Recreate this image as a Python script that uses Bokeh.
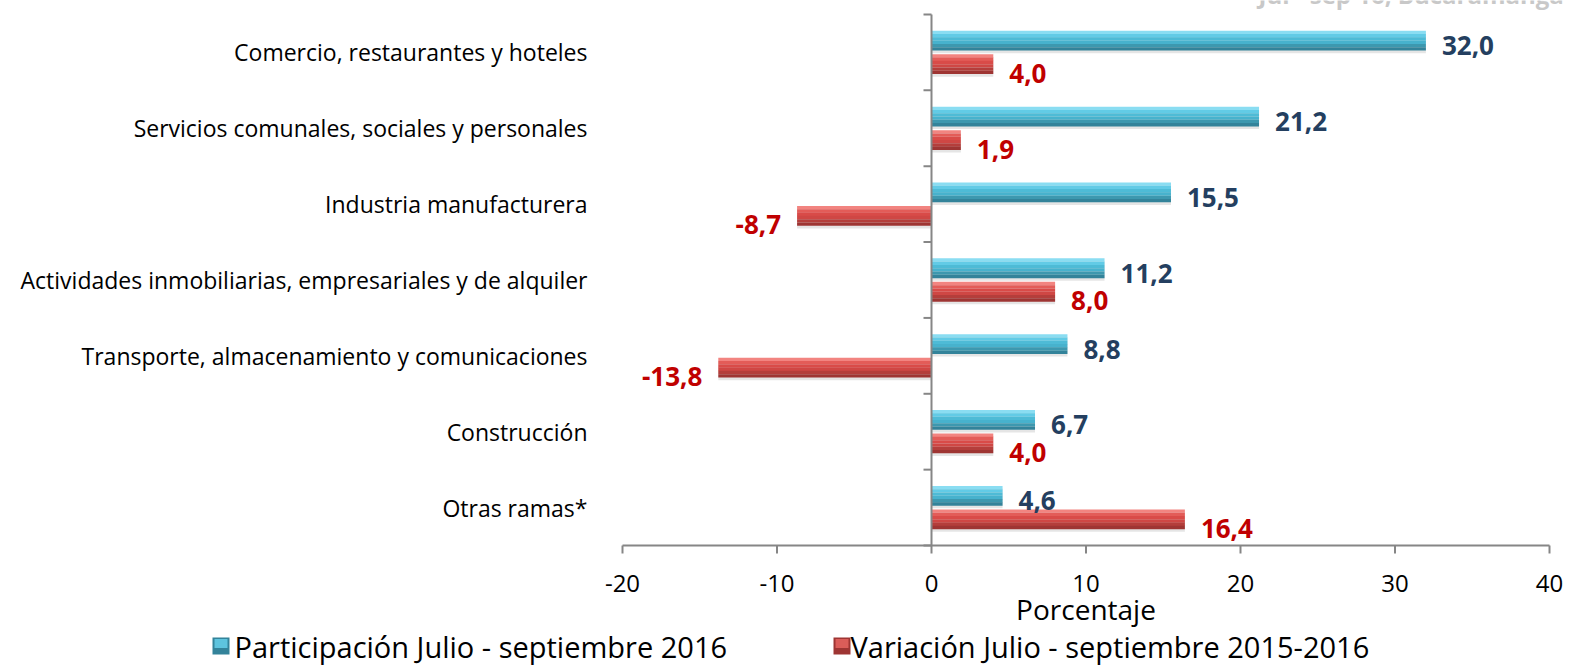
from bokeh.plotting import figure
from bokeh.models import Range1d, ColumnDataSource
from bokeh.core.properties import value
from bokeh.embed import file_html
from bokeh.resources import INLINE

categories = [
    "Comercio, restaurantes y hoteles",
    "Servicios comunales, sociales y personales",
    "Industria manufacturera",
    "Actividades inmobiliarias, empresariales y de alquiler",
    "Transporte, almacenamiento y comunicaciones",
    "Construcción",
    "Otras ramas*",
]
participacion = [32.0, 21.2, 15.5, 11.2, 8.8, 6.7, 4.6]
variacion = [4.0, 1.9, -8.7, 8.0, -13.8, 4.0, 16.4]
x_ticks = [-20, -10, 0, 10, 20, 30, 40]
x_tick_labels = ["-20", "-10", "0", "10", "20", "30", "40"]
series_names = ["Participación Julio - septiembre 2016",
                "Variación Julio - septiembre 2015-2016"]
axis_title = "Porcentaje"
corner_title = "Jul - sep 16, Bucaramanga"

FONT = "Open Sans"
W, Hc = 1577, 667
# pixel layout of the plotting area
FL, FR, FT, FB = 622, 1549, 14, 545
n = len(categories)
xmin, xmax = x_ticks[0], x_ticks[-1]
ppx = (FR - FL) / (xmax - xmin)
ppy = (FB - FT) / n
x_start = xmin - FL / ppx
x_end = xmax + (W - FR) / ppx
y_end = n + FT / ppy
y_start = 0 - (Hc - FB) / ppy

def X(px):
    return x_start + px / ppx

def Y(py):
    return y_end - py / ppy

p = figure(width=W, height=Hc, output_backend="svg", toolbar_location=None,
           x_range=Range1d(x_start, x_end), y_range=Range1d(y_start, y_end),
           x_axis_type=None, y_axis_type=None, min_border=0)
p.outline_line_color = None
p.background_fill_color = "white"
p.border_fill_color = "white"

centers = [n - i - 0.5 for i in range(n)]
OFF = 0.155
H = 0.26

def fmt(v):
    return f"{v:.1f}".replace(".", ",")

yb = [c + OFF for c in centers]
yr = [c - OFF for c in centers]

def label_src(ys, vals):
    return ColumnDataSource(dict(y=ys, v=vals, lab=[fmt(v) for v in vals],
                                 al=["left" if v >= 0 else "right" for v in vals],
                                 xo=[16 if v >= 0 else -16 for v in vals]))

src_b = label_src(yb, participacion)
src_r = label_src(yr, variacion)

BLUE_BANDS = ["#8ADDF2", "#62CBE6", "#4EBBD6", "#47B2CD", "#3D98AF", "#33839A"]
RED_BANDS = ["#F28480", "#E35C58", "#D94B48", "#CF4744", "#B43E3B", "#9E3533"]

def bar3d(ys, vals, bands):
    sh = ColumnDataSource(dict(y=[y - 0.035 for y in ys], v=vals))
    p.hbar(y="y", right="v", left=0, height=H, source=sh, fill_color="black",
           fill_alpha=0.10, line_color=None)
    m = len(bands)
    bh = H / m
    for k, col in enumerate(bands):
        s = ColumnDataSource(dict(y=[y + H / 2 - (k + 0.5) * bh for y in ys], v=vals))
        p.hbar(y="y", right="v", left=0, height=bh * 1.02, source=s, fill_color=col,
               line_color=None)

bar3d(yb, participacion, BLUE_BANDS)
bar3d(yr, variacion, RED_BANDS)

# value labels
p.text(x="v", y="y", text="lab", source=src_b, text_align="al", x_offset="xo",
       y_offset=5, text_baseline="middle", text_font=value(FONT),
       text_font_style="bold", text_font_size="26px", text_color="#243F60")
p.text(x="v", y="y", text="lab", source=src_r, text_align="al", x_offset="xo",
       y_offset=9, text_baseline="middle", text_font=value(FONT),
       text_font_style="bold", text_font_size="26px", text_color="#C00000")

GRAY = "#868686"
# vertical axis at zero with category-boundary ticks
p.segment(x0=[0], x1=[0], y0=[0], y1=[n], line_color=GRAY, line_width=2)
tick_len = 8 / ppx
p.segment(x0=[-tick_len] * (n + 1), x1=[0] * (n + 1), y0=list(range(n + 1)),
          y1=list(range(n + 1)), line_color=GRAY, line_width=2)

# horizontal axis
p.segment(x0=[xmin], x1=[xmax], y0=[0], y1=[0], line_color=GRAY, line_width=2)
p.segment(x0=x_ticks, x1=x_ticks, y0=[0] * len(x_ticks),
          y1=[-8 / ppy] * len(x_ticks), line_color=GRAY, line_width=2)
p.text(x=x_ticks, y=[Y(583)] * len(x_ticks), text=x_tick_labels, text_align="center",
       text_baseline="middle", text_font=value(FONT), text_font_size="24px",
       text_color="black")
p.text(x=[(xmin + xmax) / 2], y=[Y(608)], text=[axis_title], text_align="center",
       text_baseline="middle", text_font=value(FONT), text_font_size="28px",
       text_color="black")

# category labels
p.text(x=[X(587)] * n, y=centers, text=categories, text_align="right",
       text_baseline="middle", text_font=value(FONT), text_font_size="23px",
       text_color="black")

# legend
sw_x = [X(220.5), X(841.5)]
sw_y = [Y(645.5)] * 2
p.rect(x=sw_x, y=sw_y, width=17, height=17, width_units="screen", height_units="screen",
       fill_color=["#33839A", "#9E3533"], line_color=None)
p.rect(x=sw_x, y=[Y(643)] * 2, width=13, height=9, width_units="screen",
       height_units="screen", fill_color=["#5EC4DE", "#DB5D59"], line_color=None)
p.text(x=[X(234), X(850)], y=[Y(646)] * 2, text=series_names, text_align="left",
       text_baseline="middle", text_font=value(FONT), text_font_size="29px",
       text_color="black")

# clipped corner title
p.text(x=[X(1258)], y=[Y(-6)], text=[corner_title], text_align="left",
       text_baseline="alphabetic", text_font=value(FONT), text_font_style="bold",
       text_font_size="24px", text_color="#C8C8C8")

open("out.html", "w").write(file_html(p, INLINE))
